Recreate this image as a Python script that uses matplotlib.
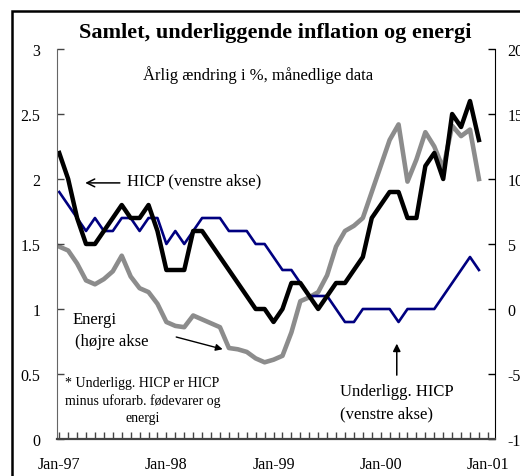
import matplotlib.pyplot as plt
import numpy as np
from matplotlib.patches import Rectangle
from matplotlib.ticker import FuncFormatter, MultipleLocator

# monthly data Jan-97 .. Dec-00, annual change in %
hicp = [
    2.2, 2.0, 1.7, 1.5, 1.5, 1.6, 1.7, 1.8, 1.7, 1.7, 1.8, 1.6,
    1.3, 1.3, 1.3, 1.6, 1.6, 1.5, 1.4, 1.3, 1.2, 1.1, 1.0, 1.0,
    0.9, 1.0, 1.2, 1.2, 1.1, 1.0, 1.1, 1.2, 1.2, 1.3, 1.4, 1.7,
    1.8, 1.9, 1.9, 1.7, 1.7, 2.1, 2.2, 2.0, 2.5, 2.4, 2.6, 2.3,
]
underligg = [
    1.9, 1.8, 1.7, 1.6, 1.7, 1.6, 1.6, 1.7, 1.7, 1.6, 1.7, 1.7,
    1.5, 1.6, 1.5, 1.6, 1.7, 1.7, 1.7, 1.6, 1.6, 1.6, 1.5, 1.5,
    1.4, 1.3, 1.3, 1.2, 1.1, 1.1, 1.1, 1.0, 0.9, 0.9, 1.0, 1.0,
    1.0, 1.0, 0.9, 1.0, 1.0, 1.0, 1.0, 1.1, 1.2, 1.3, 1.4, 1.3,
]
energi = [
    4.8, 4.5, 3.5, 2.2, 1.9, 2.3, 2.9, 4.1, 2.5, 1.6, 1.3, 0.4,
    -1.0, -1.3, -1.4, -0.5, -0.8, -1.1, -1.4, -3.0, -3.1, -3.3, -3.8, -4.1,
    -3.9, -3.6, -1.8, 0.6, 0.9, 1.3, 2.6, 4.8, 6.0, 6.4, 7.0, 9.0,
    11.0, 13.0, 14.2, 9.8, 11.5, 13.6, 12.5, 10.8, 14.1, 13.3, 13.8, 10.0,
]
year_labels = ["Jan-97", "Jan-98", "Jan-99", "Jan-00", "Jan-01"]

months = np.arange(len(hicp))
plt.rcParams["font.family"] = "Liberation Serif"
plt.rcParams["axes.unicode_minus"] = False

fig = plt.figure(figsize=(5.2, 4.77), dpi=100)
ax = fig.add_axes([57 / 520, 1 - 440 / 477, (495 - 57) / 520, (440 - 50) / 477])
ax2 = ax.twinx()
ax.set_zorder(ax2.get_zorder() + 1)
ax.patch.set_visible(False)

# energy on the right axis, drawn behind
ax2.plot(months, energi, color="#8c8c8c", lw=3.3)
ax.plot(months, underligg, color="#000080", lw=1.9)
ax.plot(months, hicp, color="black", lw=3.2)

ax.set_xlim(-0.25, 48.8)
ax.set_ylim(0, 3)
ax2.set_ylim(-10, 20)

ax.set_xticks(np.arange(0, 49, 12))
ax.set_xticklabels(year_labels)
ax.xaxis.set_minor_locator(MultipleLocator(1))
ax.yaxis.set_major_locator(MultipleLocator(0.5))
ax.yaxis.set_major_formatter(FuncFormatter(lambda v, p: f"{v:g}"))
ax2.yaxis.set_major_locator(MultipleLocator(5))

ax.tick_params(axis="x", which="both", direction="in", length=5, width=1,
               color="#444444", labelsize=11.5, pad=12)
ax.tick_params(axis="y", direction="in", length=5, width=1, color="#444444",
               labelsize=11.5, pad=12)
ax2.tick_params(axis="y", direction="in", length=5, width=1, labelsize=11.5, pad=9)

for a in (ax, ax2):
    a.spines["top"].set_visible(False)
ax.spines["right"].set_visible(False)
ax.spines["left"].set_color("#666666")
ax.spines["bottom"].set_color("#444444")
ax.spines["bottom"].set_linewidth(1.6)
ax2.spines["left"].set_visible(False)
ax2.spines["bottom"].set_visible(False)
ax2.spines["right"].set_color("black")

# titles
fig.text(275 / 520, 1 - 33 / 477, "Samlet, underliggende inflation og energi",
         ha="center", va="center", fontsize=16, fontweight="bold")
ax.text(0.46, 0.935, "Årlig ændring i %, månedlige data", transform=ax.transAxes,
        ha="center", va="center", fontsize=12)

# series labels with arrows
ax.annotate("", xy=(2.6, 1.97), xytext=(7.1, 1.97),
            arrowprops=dict(arrowstyle="->", color="black", lw=1.1,
                            mutation_scale=14))
ax.text(7.6, 1.99, "HICP (venstre akse)", ha="left", va="center", fontsize=12)

ax.text(1.45, 0.92, "Energi", ha="left", va="center", fontsize=12)
ax.text(1.8, 0.75, "(højre akse", ha="left", va="center", fontsize=12)
ax.annotate("", xy=(18.6, 0.685), xytext=(12.8, 0.79),
            arrowprops=dict(arrowstyle="-|>", color="black", lw=1.0,
                            mutation_scale=10))

ax.text(9.3, 0.3, "* Underligg. HICP er HICP\nminus uforarb. fødevarer og\nenergi",
        ha="center", va="center", fontsize=10, linespacing=1.4)

ax.annotate("", xy=(37.8, 0.755), xytext=(37.8, 0.47),
            arrowprops=dict(arrowstyle="-|>", color="black", lw=1.1,
                            mutation_scale=11))
ax.text(31.4, 0.37, "Underligg. HICP", ha="left", va="center", fontsize=12)
ax.text(31.4, 0.2, "(venstre akse)", ha="left", va="center", fontsize=12)

# outer frame of the chart box
fig.patches.append(Rectangle((12 / 520, -0.2), 1.2, 1.2 - 12 / 477,
                             transform=fig.transFigure, fill=False,
                             edgecolor="black", lw=1.8))

fig.savefig("out.png", dpi=100)
